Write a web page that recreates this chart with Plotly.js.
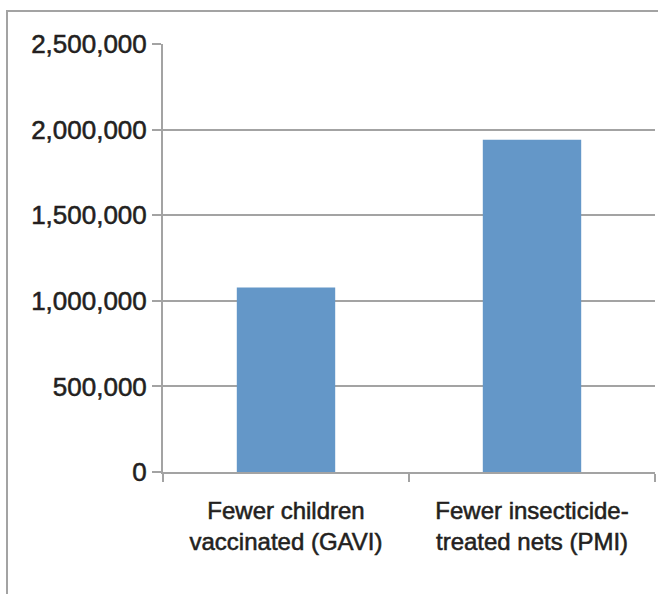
<!DOCTYPE html>
<html>
<head>
<meta charset="utf-8">
<script src="https://cdn.plot.ly/plotly-3.0.1.min.js"></script>
<style>
  html, body { margin: 0; padding: 0; background: #ffffff; }
  #wrap { position: relative; width: 658px; height: 594px; overflow: hidden; }
  #chart { position: absolute; left: 0; top: 0; width: 658px; height: 594px; }
  #frame {
    position: absolute; left: 6px; top: 10px; width: 660px; height: 600px;
    border-top: 2px solid #a3a3a3; border-left: 2px solid #a3a3a3;
    pointer-events: none; box-sizing: border-box;
  }
  /* slightly heavier tick labels */
  #chart .xtick text, #chart .ytick text {
    stroke: #231f20; stroke-width: 0.55px; paint-order: stroke fill;
  }
</style>
</head>
<body>
<div id="wrap">
  <div id="chart"></div>
  <div id="frame"></div>
</div>
<script>
// Programme shortfalls shown as bars
const categories = [
  "Fewer children<br>vaccinated (GAVI)",
  "Fewer insecticide-<br>treated nets (PMI)"
];
const shortfall = [1078000, 1940000];

const yTickValues = [0, 500000, 1000000, 1500000, 2000000, 2500000];
const yTickLabels = ["0", "500,000", "1,000,000", "1,500,000", "2,000,000", "2,500,000"];

const lineGrey = "#a3a3a3";
const textColor = "#231f20";

const trace = {
  type: "bar",
  x: categories,
  y: shortfall,
  marker: { color: "#6497c8", line: { width: 0 } },
  width: 0.4,
  hoverinfo: "x+y"
};

const layout = {
  width: 658,
  height: 594,
  margin: { l: 163, r: 3, t: 44, b: 122, pad: 0 },
  paper_bgcolor: "#ffffff",
  plot_bgcolor: "#ffffff",
  showlegend: false,
  font: { family: "Liberation Sans, Arial, Helvetica, sans-serif", color: textColor },
  xaxis: {
    type: "category",
    showline: true,
    linecolor: lineGrey,
    linewidth: 2,
    ticks: "outside",
    tickson: "boundaries",
    ticklen: 8,
    tickwidth: 2,
    tickcolor: lineGrey,
    showgrid: false,
    zeroline: false,
    tickfont: { size: 24, color: textColor },
    ticklabelstandoff: 16
  },
  yaxis: {
    range: [0, 2500000],
    tickvals: yTickValues,
    ticktext: yTickLabels,
    showline: true,
    linecolor: lineGrey,
    linewidth: 2,
    ticks: "outside",
    ticklen: 9,
    tickwidth: 2,
    tickcolor: lineGrey,
    showgrid: true,
    gridcolor: lineGrey,
    gridwidth: 2,
    zeroline: false,
    tickfont: { size: 26, color: textColor }
  },
  bargap: 0.6
};

Plotly.newPlot("chart", [trace], layout, { displayModeBar: false, staticPlot: true });
</script>
</body>
</html>
